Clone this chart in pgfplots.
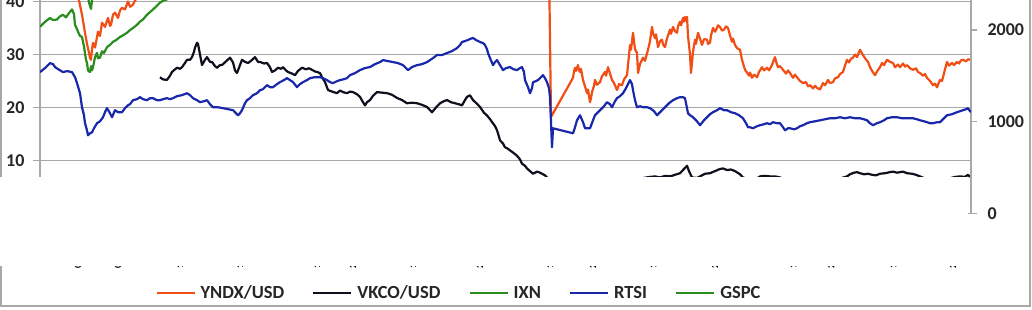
\documentclass[border=0pt]{standalone}
\usepackage{pgfplots}
\pgfplotsset{compat=1.18}
\usepackage{fontspec}
\setmainfont{Carlito}
\definecolor{cOr}{RGB}{240,78,20}
\definecolor{cBk}{RGB}{15,15,30}
\definecolor{cGr}{RGB}{40,140,30}
\definecolor{cBl}{RGB}{25,40,170}
\definecolor{cGrid}{RGB}{168,168,168}
\begin{document}
\begin{tikzpicture}[x=1pt,y=1pt]
\useasboundingbox (0,0) rectangle (1032,310);
\begin{axis}[at={(40pt,96.5pt)}, anchor=south west, scale only axis,
  width=931pt, height=213.5pt,
  xmin=40, xmax=971, ymin=0, ymax=40.28,
  axis x line*=bottom, axis y line*=left,
  axis line style={cGrid, line width=1.4pt},
  tick style={cGrid, line width=1.4pt},
  tick align=outside, major tick length=7pt,
  ytick={0,10,20,30,40}, ymajorgrids,
  grid style={cGrid, line width=1.4pt},
  /pgf/number format/assume math mode=true,
  y tick label style={font=\fontsize{18}{20}\selectfont\bfseries, text=black!85, xshift=-5pt},
  xtick={78,118,180,240,317,353,413,480,550,593,653,715,793,831,893,953},
  xticklabels={03.03.2020,05.05.2020,17.07.2020,15.09.2020,11.12.2020,29.01.2021,14.04.2021,21.06.2021,15.09.2021,22.11.2021,18.01.2022,29.04.2022,14.08.2022,26.10.2022,16.01.2023,24.03.2023},
  x tick label style={rotate=90, anchor=east, font=\fontsize{9.6}{11}\selectfont\bfseries},
  no markers, line join=round]
% YNDX/USD
\addplot[cOr, line width=2.2pt] coordinates {
(40,44.5) (50,45.2) (60,44) (70,42.5) (76,42) (79,40.2) (82,37.5) (85,34.1) (87,32) (89,30.3) (90,29.3) (91,29.0) (92,31) (93,32.2) (95,31.3) (98,34.3) (100,33.5) (102,36.0) (105,35.2) (108,36.9) (110,35.4) (111,35.6) (113,37.5) (115,37.9) (118,36.9) (120,38.3) (122,38.8) (125,38.5) (128,40.0) (130,39.0) (133,39.4) (135,40.2) (137,40.6) (140,42) (150,44) (170,47) (200,50) (250,55) (300,60) (350,65) (400,70) (450,62) (500,52) (540,46) (549,47)
(551,18.2) (573,25.6) (574,26.8) (575,27.5) (576,26.9) (578,28.0) (579,27.0) (580,26.7) (581,27.3) (583,25.2) (585,24.0) (587,22.7) (588,23.4) (590,21.0) (591,21.8) (592,22.9) (594,24.1) (595,25.2) (597,24.3) (600,24.8) (602,25.9) (605,26.7) (606,26.0) (608,27.6) (610,26.4) (612,25.2) (614,24.6) (617,23.3) (619,24.4) (622,24.2) (624,25.3) (627,26.1) (628,28.0) (630,31.8) (631,30.9) (633,34.1) (634,32.5) (635,31.0) (637,30.3) (638,26.5) (640,28.2) (643,29.4) (645,28.8) (648,30.9) (650,32.5) (652,35.2) (653,34.0) (655,33.1) (656,33.8) (658,31.4) (660,32.5) (662,32.8) (663,31.9) (665,31.4) (667,33.0) (670,34.7) (671,33.9) (673,35.2) (675,34.4) (677,34.1) (678,35.3) (680,36.2) (681,35.5) (683,36.9) (684,36.2) (685,37.1) (686,36.4) (687,37.1) (688,33.5) (690,30) (691,26.5) (693,30.5) (695,32.8) (696,32.0) (698,34.1) (700,33.0) (702,31.8) (704,32.9) (707,32.8) (708,32.0) (710,32.2) (711,33.6) (713,35.0) (715,34.3) (716,34.6) (718,35.5) (720,35.2) (722,34.5) (724,34.7) (726,35.3) (728,35.0) (730,33.6) (732,32.4) (733,33.0) (735,31.8) (737,31.2) (740,30.9) (742,29.0) (745,27.1) (747,26.6) (749,26.0) (750,26.6) (752,25.6) (754,26.2) (757,25.7) (759,26.7) (762,27.6) (764,27.0) (767,27.5) (769,27.0) (772,28.0) (773,28.6) (775,29.5) (776,28.7) (778,27.6) (780,27.8) (783,27.1) (786,26.4) (788,27.0) (790,26.5) (793,25.6) (795,26.2) (797,25.7) (800,25.0) (803,24.6) (806,24.8) (808,24.0) (810,24.2) (813,23.6) (815,24.1) (817,23.7) (820,23.4) (823,24.6) (825,24.2) (828,25.2) (830,24.6) (833,24.8) (835,25.5) (838,25.7) (840,26.3) (843,26.7) (845,27.9) (847,29.0) (849,28.5) (851,29.2) (853,29.4) (855,30.0) (857,29.5) (860,30.9) (862,30.2) (863,29.9) (865,29.3) (868,28.6) (870,27.6) (872,26.9) (875,26.1) (877,26.8) (880,27.6) (882,28.4) (884,28.0) (887,29.0) (890,28.6) (893,28.4) (895,27.6) (898,28.1) (900,27.6) (903,28.3) (905,27.7) (907,28.0) (910,27.4) (913,27.1) (916,27.4) (918,26.7) (920,26.5) (923,26.0) (925,26.3) (927,25.6) (930,25.0) (933,24.2) (935,24.5) (937,23.8) (938,24.3) (940,25.2) (942,25.0) (943,25.7) (945,27.2) (947,28.6) (949,27.9) (952,28.4) (954,28.0) (957,28.6) (959,28.3) (961,28.9) (963,29.0) (966,28.7) (968,29.1) (970,29.0)
};
% VKCO/USD
\addplot[cBk, line width=2.2pt] coordinates {
(160,25.7) (163,25.3) (167,25.2) (170,26.0) (172,26.7) (175,27.2) (177,27.5) (180,27.3) (182,27.6) (185,28.4) (187,29.0) (190,29.0) (192,29.5) (194,30.5) (195,31.3) (197,32.2) (198,32.0) (200,30.0) (202,28.0) (205,29.0) (207,29.5) (210,28.6) (212,28.6) (215,27.8) (217,27.5) (220,28.0) (222,28.0) (226,28.7) (230,29.4) (233,28.5) (235,27.0) (237,26.5) (240,28.0) (242,29.0) (245,28.6) (248,28.4) (251,28.8) (255,29.5) (258,28.6) (260,28.6) (264,28.3) (267,28.4) (270,27.6) (272,26.7) (275,27.0) (278,27.5) (281,27.3) (283,27.6) (286,27.0) (288,26.7) (292,26.4) (295,26.1) (298,26.9) (302,27.5) (306,27.2) (309,27.4) (312,27.1) (315,26.8) (317,26.7) (320,26.5) (322,25.7) (325,24.8) (328,23.3) (332,23.0) (337,22.7) (340,23.2) (343,22.9) (347,22.7) (350,23.0) (353,22.9) (357,22.5) (360,22.0) (363,21.0) (365,20.4) (367,21.0) (370,21.4) (373,22.2) (377,22.9) (382,22.8) (387,22.7) (392,22.4) (397,21.8) (402,21.4) (407,20.8) (412,20.9) (417,20.8) (422,20.5) (427,20.1) (430,19.5) (432,19.1) (436,20.0) (440,20.8) (444,21.2) (447,21.4) (451,21.0) (455,20.8) (459,20.6) (462,20.4) (465,21.4) (467,22.0) (470,22.3) (473,21.4) (477,20.7) (480,20.1) (484,19.0) (487,18.5) (490,17.8) (493,17.0) (495,16.5) (497,15.7) (499,14.5) (500,13.8) (503,13.2) (505,12.5) (508,12.2) (510,11.9) (513,11.5) (517,10.9) (520,10.2) (522,9.4) (525,9.0) (527,8.5) (530,8.0) (533,7.5) (537,7.9) (540,7.7) (543,7.4) (545,7.2) (548,6.6) (551,5.5)
(573,5.5) (590,6.0) (600,6.3) (610,6.0) (620,6.3) (630,6.2) (640,6.6) (650,6.9) (655,7.0) (660,6.8) (665,7.1) (670,7.0) (675,7.3) (680,7.6) (683,8.2) (685,8.6) (687,9.0) (689,8.0) (692,6.8) (697,6.7) (700,7.0) (705,7.5) (710,7.6) (715,8.0) (720,8.4) (723,8.5) (727,8.2) (731,8.3) (735,8.0) (740,7.4) (743,6.8) (748,6.5) (752,6.3) (757,6.6) (760,7.0) (765,7.1) (770,7.0) (775,7.0) (780,6.8) (785,6.4) (790,6.2) (800,6.0) (810,6.2) (820,6.0) (830,6.3) (840,6.6) (847,7.0) (850,7.4) (854,7.7) (857,7.8) (860,7.6) (864,7.4) (868,7.5) (872,7.3) (876,7.2) (880,7.5) (885,7.6) (890,7.8) (893,7.9) (897,7.7) (900,7.8) (903,7.9) (907,7.6) (912,7.5) (916,7.3) (920,7.0) (925,6.6) (935,6.3) (945,6.4) (955,6.9) (960,7.0) (965,6.9) (968,7.3) (970,6.9)
};
% IXN
\addplot[cGr, line width=2.2pt] coordinates {
(40,35.2) (43,35.8) (46,36.3) (50,36.9) (53,36.5) (57,36.6) (60,37.2) (63,37.5) (66,37.0) (69,37.8) (72,38.5) (74,37.6) (75,35.6) (77,34.8) (78,34.3) (80,33.5) (82,33.3) (84,31.5) (86,29.0) (87,28.4) (88,27.0) (89,26.8) (90,26.7) (91,27.8) (92,27.0) (93,27.6) (95,29.5) (97,30.3) (98,29.3) (100,29.4) (102,30.6) (104,30.3) (107,31.4) (110,31.8) (113,32.4) (116,32.7) (120,33.3) (123,33.6) (127,34.1) (130,34.6) (133,35.0) (137,35.6) (140,36.2) (143,36.6) (147,37.5) (150,38.0) (153,38.5) (157,39.2) (160,39.8) (164,40.2) (167,40.4) (170,40.8) (175,41.5) (190,43) (250,46) (350,52) (450,60) (550,56) (650,46) (750,48) (850,55) (971,62)
};
\end{axis}
\begin{axis}[at={(40pt,96.5pt)}, anchor=south west, scale only axis,
  width=931pt, height=213.5pt,
  xmin=40, xmax=971, ymin=0, ymax=2327,
  axis x line=none, axis y line*=right,
  axis line style={cGrid, line width=1.4pt},
  tick style={cGrid, line width=1.4pt},
  tick align=outside, major tick length=6pt,
  ytick={0,1000,2000},
  /pgf/number format/1000 sep={},
  /pgf/number format/assume math mode=true,
  y tick label style={font=\fontsize{18}{20}\selectfont\bfseries, text=black!85, xshift=7pt},
  no markers, line join=round,
  legend columns=5,
  legend image code/.code={\draw[#1] (0pt,0pt) -- (38pt,0pt);},
  legend style={draw=none, fill=none, at={(axis description cs:0.450,-0.3724)}, anchor=center,
    font=\fontsize{18.5}{20}\selectfont\bfseries, text=black!85,
    column sep=3pt, /tikz/every even column/.append style={column sep=26pt}}]
\addlegendimage{cOr, line width=2.2pt}
\addlegendentry{YNDX/USD}
\addlegendimage{cBk, line width=2.2pt}
\addlegendentry{VKCO/USD}
\addlegendimage{cGr, line width=2.2pt}
\addlegendentry{IXN}
% RTSI
\addplot[cBl, line width=2.2pt] coordinates {
(40,1541) (45,1585) (50,1639) (53,1628) (55,1596) (58,1574) (63,1541) (67,1552) (72,1541) (75,1486) (77,1421) (80,1311) (82,1158) (84,1071) (85,984) (87,907) (88,852) (90,874) (92,885) (94,929) (97,984) (100,1005) (103,1049) (105,1104) (107,1148) (110,1093) (112,1049) (115,1126) (118,1104) (122,1104) (125,1148) (128,1180) (130,1191) (133,1235) (137,1246) (140,1268) (143,1246) (147,1235) (150,1257) (153,1257) (157,1235) (160,1235) (163,1246) (167,1257) (170,1246) (173,1257) (177,1279) (182,1290) (187,1311) (190,1290) (193,1257) (197,1235) (200,1213) (204,1224) (207,1235) (210,1191) (213,1158) (218,1158) (223,1148) (228,1137) (233,1126) (236,1093) (238,1071) (240,1093) (242,1126) (245,1202) (247,1235) (250,1257) (253,1290) (257,1311) (260,1344) (263,1355) (267,1399) (270,1377) (273,1377) (277,1410) (280,1432) (284,1454) (287,1475) (290,1454) (293,1432) (297,1377) (300,1410) (303,1432) (307,1454) (310,1475) (315,1486) (320,1486) (323,1475) (327,1454) (330,1432) (333,1421) (337,1443) (340,1454) (344,1464) (347,1475) (350,1508) (355,1530) (360,1563) (365,1585) (370,1596) (375,1628) (380,1650) (383,1672) (388,1661) (393,1650) (398,1639) (403,1617) (406,1585) (408,1563) (412,1596) (417,1617) (422,1628) (427,1650) (430,1672) (433,1694) (437,1727) (442,1727) (447,1749) (452,1770) (457,1803) (460,1836) (462,1869) (465,1880) (468,1891) (470,1902) (473,1913) (476,1891) (480,1869) (483,1858) (485,1836) (487,1792) (488,1749) (490,1694) (493,1617) (495,1650) (497,1672) (500,1617) (503,1563) (506,1585) (510,1596) (513,1574) (517,1563) (520,1585) (522,1596) (524,1541) (525,1454) (528,1377) (530,1311) (532,1366) (533,1432) (536,1443) (538,1454) (540,1475) (543,1508) (545,1475) (547,1432) (549,1366) (550,1268) (552,721) (553,929) (573,874) (575,940) (577,1016) (580,1071) (583,995) (585,929) (590,929) (593,1016) (595,1071) (598,1104) (600,1126) (604,1169) (607,1213) (610,1191) (612,1158) (615,1224) (617,1257) (620,1279) (623,1311) (626,1366) (628,1410) (630,1454) (632,1410) (633,1344) (635,1235) (637,1158) (640,1169) (643,1158) (647,1158) (650,1148) (654,1115) (657,1071) (661,1115) (665,1158) (669,1202) (673,1235) (677,1257) (680,1268) (683,1268) (685,1257) (688,1093) (690,1071) (693,1049) (697,1005) (700,962) (704,1016) (707,1049) (710,1082) (713,1104) (717,1126) (720,1148) (724,1126) (727,1126) (731,1104) (735,1093) (739,1071) (743,1038) (746,984) (748,940) (750,940) (753,929) (757,951) (760,962) (764,973) (767,984) (770,973) (773,995) (777,984) (780,984) (783,940) (785,907) (788,929) (790,929) (794,918) (797,929) (800,951) (803,962) (807,984) (810,995) (815,1005) (820,1016) (825,1027) (830,1038) (835,1038) (840,1049) (845,1038) (850,1049) (855,1038) (860,1038) (864,1027) (867,1016) (870,984) (873,962) (877,984) (880,995) (884,1016) (887,1038) (892,1049) (897,1049) (902,1038) (907,1038) (913,1038) (917,1027) (920,1016) (924,1005) (927,995) (930,984) (933,984) (937,995) (940,995) (944,1038) (947,1071) (952,1082) (957,1104) (960,1115) (963,1126) (966,1137) (968,1148) (970,1115) (971,1104)
};
\addlegendentry{RTSI}
% GSPC
\addplot[cGr, line width=2.2pt] coordinates {
(40,3230) (60,3330) (75,3100) (82,2750) (86,2480) (89,2300) (91,2230) (93,2420) (96,2600) (100,2750) (120,2850) (150,3100) (200,3250) (250,3400) (300,3700) (350,3800) (400,4200) (450,4400) (500,4700) (550,4400) (600,4200) (650,3800) (700,3700) (750,3900) (800,4000) (850,4400) (900,4500) (971,4400)
};
\addlegendentry{GSPC}
\end{axis}
\draw[cGrid, line width=1.3pt] (1,4) rectangle (1030,330);
\fill[white] (0,44) rectangle (968,133);
\end{tikzpicture}
\end{document}
